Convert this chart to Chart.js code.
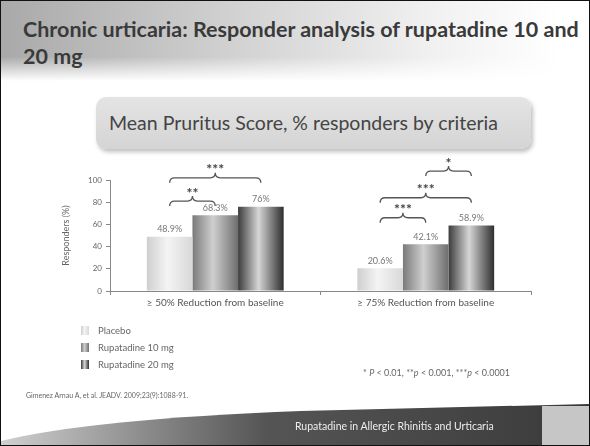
<!DOCTYPE html>
<html lang="en">
<head>
  <meta charset="UTF-8">
  <title>Chronic urticaria: Responder analysis</title>
  <script src="https://cdn.jsdelivr.net/npm/chart.js"></script>
  <style>
    html, body { margin: 0; padding: 0; }
    body { width: 590px; height: 446px; overflow: hidden; background: #fff; font-family: 'Lato', 'Open Sans', sans-serif; }
    .slide { position: relative; width: 588px; height: 444px; border: 1px solid #111; overflow: hidden; background: #fff; }
    .title-band {
      position: absolute; left: 0; top: 0; width: 588px; height: 80px;
      background: linear-gradient(to right, #a9a9a9 0%, #d2d2d2 40%, #f2f2f2 75%, #fff 95%);
      -webkit-mask-image: linear-gradient(to bottom, #000 70%, transparent 100%);
      mask-image: linear-gradient(to bottom, #000 70%, transparent 100%);
    }
    .title { position: absolute; left: 22px; top: 15px; font-weight: 700; font-size: 21.5px; line-height: 27px; color: #3a3a3a; white-space: nowrap; }
    .subtitle {
      position: absolute; left: 95px; top: 96px; width: 435px; height: 52px; border-radius: 10px;
      background: linear-gradient(to bottom, #e4e4e4, #d4d4d4);
      box-shadow: 2px 3px 4px rgba(0,0,0,0.25);
      text-align: center; line-height: 52px; font-size: 19.5px; color: #444;
      box-sizing: border-box; padding-right: 20px;
    }
    #chart { position: absolute; left: 0; top: 0; }
    .legend { position: absolute; left: 80px; top: 321px; font-size: 9.5px; color: #666; }
    .legend div { height: 17px; line-height: 14px; display: flex; align-items: center; }
    .legend span.sw { display: inline-block; width: 8px; height: 9px; margin-right: 9px; }
    .footnote { position: absolute; left: 362px; top: 366px; font-size: 9px; color: #666; }
    .ref { position: absolute; left: 25px; top: 390px; font-size: 7px; color: #666; }
    .footer { position: absolute; left: 0; top: 400px; }
    .footer-text { position: absolute; left: 294px; top: 419px; font-size: 10.5px; color: #eee; }
  </style>
</head>
<body>
<div class="slide">
  <div class="title-band"></div>
  <div class="title">Chronic urticaria: Responder analysis of rupatadine 10 and<br>20 mg</div>
  <div class="subtitle">Mean Pruritus Score, % responders by criteria</div>
  <canvas id="chart" width="588" height="444"></canvas>
  <div class="legend" id="legend"></div>
  <div class="footnote">* <i>P</i> &lt; 0.01, **<i>p</i> &lt; 0.001, ***<i>p</i> &lt; 0.0001</div>
  <div class="ref">Gimenez Arnau A, et al. JEADV. 2009;23(9):1088-91.</div>
  <svg class="footer" width="588" height="44">
    <defs>
      <linearGradient id="fg" x1="0" y1="0" x2="1" y2="0">
        <stop offset="0" stop-color="#d0d0d0"/>
        <stop offset="0.25" stop-color="#8a8a8a"/>
        <stop offset="0.45" stop-color="#555"/>
        <stop offset="1" stop-color="#3a3a3a"/>
      </linearGradient>
    </defs>
    <path d="M0 44 L0 40 Q90 18 300 10 L588 3 L588 44 Z" fill="url(#fg)"/>
    <rect x="541" y="5" width="47" height="39" fill="#c6c6c6"/>
  </svg>
  <div class="footer-text">Rupatadine in Allergic Rhinitis and Urticaria</div>
</div>

<script>
const categories = ['\u2265 50% Reduction from baseline', '\u2265 75% Reduction from baseline'];
const seriesNames = ['Placebo', 'Rupatadine 10 mg', 'Rupatadine 20 mg'];
const placebo = [48.9, 20.6];
const rupatadine10 = [68.3, 42.1];
const rupatadine20 = [76, 58.9];
const valueLabels = [['48.9%', '20.6%'], ['68.3%', '42.1%'], ['76%', '58.9%']];
const yTicks = [0, 20, 40, 60, 80, 100];
// significance braces: category, first series, last series, level (%), stars
const braceCategory = [0, 0, 1, 1, 1];
const braceFrom = [0, 0, 0, 0, 1];
const braceTo = [1, 2, 1, 2, 2];
const braceLevel = [81, 102, 66, 84, 108];
const braceStars = ['**', '***', '***', '***', '*'];

// edge / centre greys for the cylinder look of each series
const shades = [
  ['#cfcfcf', '#f4f4f4', '#d8d8d8'],
  ['#7a7a7a', '#cfcfcf', '#6e6e6e'],
  ['#3c3c3c', '#d6d6d6', '#2e2e2e']
];

function barFill(ctx) {
  const el = ctx.element;
  const s = shades[ctx.datasetIndex];
  if (!el || el.x === undefined || isNaN(el.x)) return s[1];
  const w = el.width || 40;
  const g = ctx.chart.ctx.createLinearGradient(el.x - w / 2, 0, el.x + w / 2, 0);
  g.addColorStop(0, s[0]);
  g.addColorStop(0.45, s[1]);
  g.addColorStop(1, s[2]);
  return g;
}

const labelPlugin = {
  id: 'labels',
  afterDatasetsDraw(chart) {
    const c = chart.ctx;
    c.save();
    c.font = '9px Lato, sans-serif';
    c.fillStyle = '#777';
    c.textAlign = 'center';
    c.textBaseline = 'bottom';
    chart.data.datasets.forEach((ds, di) => {
      chart.getDatasetMeta(di).data.forEach((bar, i) => {
        c.fillText(valueLabels[di][i], bar.x, bar.y - 3);
      });
    });
    // braces
    const y = chart.scales.y;
    c.strokeStyle = '#555';
    c.lineWidth = 1.3;
    c.fillStyle = '#444';
    c.font = 'bold 14px Lato, sans-serif';
    braceLevel.forEach((lvl, k) => {
      const a = chart.getDatasetMeta(braceFrom[k]).data[braceCategory[k]];
      const b = chart.getDatasetMeta(braceTo[k]).data[braceCategory[k]];
      const x1 = a.x, x2 = b.x, m = (x1 + x2) / 2, yy = y.getPixelForValue(lvl);
      const r = 5;
      c.beginPath();
      c.moveTo(x1, yy + r);
      c.quadraticCurveTo(x1, yy, x1 + r, yy);
      c.lineTo(m - r, yy);
      c.quadraticCurveTo(m, yy, m, yy - r);
      c.quadraticCurveTo(m, yy, m + r, yy);
      c.lineTo(x2 - r, yy);
      c.quadraticCurveTo(x2, yy, x2, yy + r);
      c.stroke();
      c.fillText(braceStars[k], m, yy - 1);
    });
    c.restore();
  }
};

const chart = new Chart(document.getElementById('chart'), {
  type: 'bar',
  data: {
    labels: categories,
    datasets: [
      { label: seriesNames[0], data: placebo },
      { label: seriesNames[1], data: rupatadine10 },
      { label: seriesNames[2], data: rupatadine20 }
    ]
  },
  options: {
    responsive: false,
    animation: false,
    events: [],
    barPercentage: 1,
    categoryPercentage: 0.65,
    backgroundColor: barFill,
    layout: { padding: { left: 60, top: 179, right: 58, bottom: 134 } },
    plugins: { legend: { display: false }, tooltip: { enabled: false } },
    scales: {
      x: {
        afterFit(s) { s.height = 20; },
        grid: { offset: true, drawOnChartArea: false, tickLength: 4, color: '#888' },
        border: { color: '#888' },
        ticks: { color: '#555', font: { size: 10, family: 'Lato' }, padding: 2 }
      },
      y: {
        min: 0, max: 100,
        afterFit(s) { s.width = 49; },
        afterBuildTicks(s) { s.ticks = yTicks.map(v => ({ value: v })); },
        grid: { drawOnChartArea: false, tickLength: 4, color: '#888' },
        border: { color: '#888' },
        ticks: { color: '#666', font: { size: 8, family: 'Lato' }, padding: 4 },
        title: { display: true, text: 'Responders (%)', color: '#666', font: { size: 9, family: 'Lato' }, padding: 0 }
      }
    }
  },
  plugins: [labelPlugin]
});
chart.update();

// legend
const legend = document.getElementById('legend');
seriesNames.forEach((name, i) => {
  const s = shades[i];
  const row = document.createElement('div');
  row.innerHTML = '<span class="sw" style="background:linear-gradient(to right,' + s[0] + ',' + s[1] + ' 45%,' + s[2] + ')"></span>' + name;
  legend.appendChild(row);
});
</script>
</body>
</html>
